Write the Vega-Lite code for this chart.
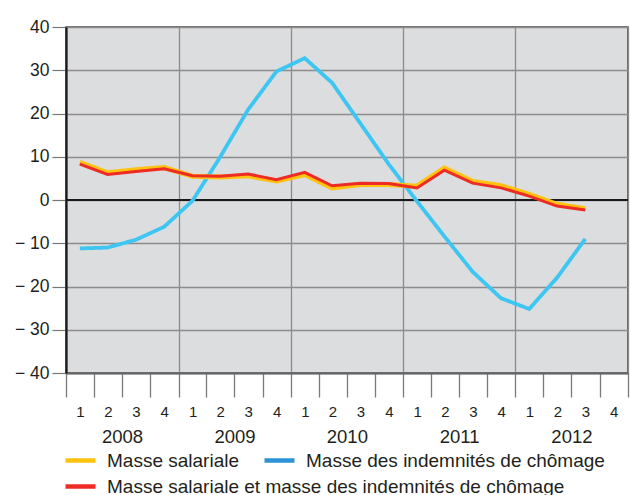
{
  "$schema": "https://vega.github.io/schema/vega-lite/v6.json",
  "width": 562,
  "height": 346,
  "autosize": {"type": "none"},
  "padding": {"left": 66, "top": 27, "right": 2, "bottom": 122},
  "background": "white",
  "config": {
    "font": "Liberation Sans",
    "view": {"fill": "#dcdddf", "stroke": "#444444", "strokeWidth": 1.5},
    "axis": {"labelFont": "Liberation Sans", "labelColor": "#231f20", "gridColor": "#8c8c8c", "gridWidth": 1.3, "gridOpacity": 1, "labelOverlap": false, "labelFlush": false, "title": null},
    "legend": {"labelFont": "Liberation Sans", "labelColor": "#231f20", "labelFontSize": 19, "labelLimit": 0, "padding": 0, "title": null, "symbolType": "stroke", "symbolSize": 900, "symbolStrokeWidth": 4.5, "labelOffset": 9}
  },
  "data": {
    "values": [
      {"date": "2008-02-15", "serie": "Masse salariale", "valeur": 8.7},
      {"date": "2008-05-15", "serie": "Masse salariale", "valeur": 6.3},
      {"date": "2008-08-15", "serie": "Masse salariale", "valeur": 7.0},
      {"date": "2008-11-15", "serie": "Masse salariale", "valeur": 7.5},
      {"date": "2009-02-15", "serie": "Masse salariale", "valeur": 5.5},
      {"date": "2009-05-15", "serie": "Masse salariale", "valeur": 5.3},
      {"date": "2009-08-15", "serie": "Masse salariale", "valeur": 5.6},
      {"date": "2009-11-15", "serie": "Masse salariale", "valeur": 4.4},
      {"date": "2010-02-15", "serie": "Masse salariale", "valeur": 5.9},
      {"date": "2010-05-15", "serie": "Masse salariale", "valeur": 2.8},
      {"date": "2010-08-15", "serie": "Masse salariale", "valeur": 3.6},
      {"date": "2010-11-15", "serie": "Masse salariale", "valeur": 3.6},
      {"date": "2011-02-15", "serie": "Masse salariale", "valeur": 3.2},
      {"date": "2011-05-15", "serie": "Masse salariale", "valeur": 7.4},
      {"date": "2011-08-15", "serie": "Masse salariale", "valeur": 4.3},
      {"date": "2011-11-15", "serie": "Masse salariale", "valeur": 3.3},
      {"date": "2012-02-15", "serie": "Masse salariale", "valeur": 1.3},
      {"date": "2012-05-15", "serie": "Masse salariale", "valeur": -1.0},
      {"date": "2012-08-15", "serie": "Masse salariale", "valeur": -2.0},
      {"date": "2008-02-15", "serie": "Masse des indemnités de chômage", "valeur": -11.2},
      {"date": "2008-05-15", "serie": "Masse des indemnités de chômage", "valeur": -11.0},
      {"date": "2008-08-15", "serie": "Masse des indemnités de chômage", "valeur": -9.2},
      {"date": "2008-11-15", "serie": "Masse des indemnités de chômage", "valeur": -6.2},
      {"date": "2009-02-15", "serie": "Masse des indemnités de chômage", "valeur": -0.2},
      {"date": "2009-05-15", "serie": "Masse des indemnités de chômage", "valeur": 9.8},
      {"date": "2009-08-15", "serie": "Masse des indemnités de chômage", "valeur": 20.9},
      {"date": "2009-11-15", "serie": "Masse des indemnités de chômage", "valeur": 29.7},
      {"date": "2010-02-15", "serie": "Masse des indemnités de chômage", "valeur": 32.8},
      {"date": "2010-05-15", "serie": "Masse des indemnités de chômage", "valeur": 27.1},
      {"date": "2010-08-15", "serie": "Masse des indemnités de chômage", "valeur": 17.7},
      {"date": "2010-11-15", "serie": "Masse des indemnités de chômage", "valeur": 8.3},
      {"date": "2011-02-15", "serie": "Masse des indemnités de chômage", "valeur": -0.3},
      {"date": "2011-05-15", "serie": "Masse des indemnités de chômage", "valeur": -8.4},
      {"date": "2011-08-15", "serie": "Masse des indemnités de chômage", "valeur": -16.6},
      {"date": "2011-11-15", "serie": "Masse des indemnités de chômage", "valeur": -22.7},
      {"date": "2012-02-15", "serie": "Masse des indemnités de chômage", "valeur": -25.2},
      {"date": "2012-05-15", "serie": "Masse des indemnités de chômage", "valeur": -18.0},
      {"date": "2012-08-15", "serie": "Masse des indemnités de chômage", "valeur": -9.0},
      {"date": "2008-02-15", "serie": "Masse salariale et masse des indemnités de chômage", "valeur": 8.3},
      {"date": "2008-05-15", "serie": "Masse salariale et masse des indemnités de chômage", "valeur": 5.9},
      {"date": "2008-08-15", "serie": "Masse salariale et masse des indemnités de chômage", "valeur": 6.6},
      {"date": "2008-11-15", "serie": "Masse salariale et masse des indemnités de chômage", "valeur": 7.2},
      {"date": "2009-02-15", "serie": "Masse salariale et masse des indemnités de chômage", "valeur": 5.6},
      {"date": "2009-05-15", "serie": "Masse salariale et masse des indemnités de chômage", "valeur": 5.5},
      {"date": "2009-08-15", "serie": "Masse salariale et masse des indemnités de chômage", "valeur": 6.0},
      {"date": "2009-11-15", "serie": "Masse salariale et masse des indemnités de chômage", "valeur": 4.7},
      {"date": "2010-02-15", "serie": "Masse salariale et masse des indemnités de chômage", "valeur": 6.4},
      {"date": "2010-05-15", "serie": "Masse salariale et masse des indemnités de chômage", "valeur": 3.3},
      {"date": "2010-08-15", "serie": "Masse salariale et masse des indemnités de chômage", "valeur": 3.9},
      {"date": "2010-11-15", "serie": "Masse salariale et masse des indemnités de chômage", "valeur": 3.8},
      {"date": "2011-02-15", "serie": "Masse salariale et masse des indemnités de chômage", "valeur": 2.8},
      {"date": "2011-05-15", "serie": "Masse salariale et masse des indemnités de chômage", "valeur": 6.9},
      {"date": "2011-08-15", "serie": "Masse salariale et masse des indemnités de chômage", "valeur": 3.9},
      {"date": "2011-11-15", "serie": "Masse salariale et masse des indemnités de chômage", "valeur": 2.8},
      {"date": "2012-02-15", "serie": "Masse salariale et masse des indemnités de chômage", "valeur": 0.9},
      {"date": "2012-05-15", "serie": "Masse salariale et masse des indemnités de chômage", "valeur": -1.4},
      {"date": "2012-08-15", "serie": "Masse salariale et masse des indemnités de chômage", "valeur": -2.3}
    ]
  },
  "layer": [
    {
      "mark": {"type": "rule", "color": "#1a1a1a", "strokeWidth": 1.6},
      "encoding": {
        "y": {
          "datum": 0, "type": "quantitative",
          "scale": {"domain": [-40, 40], "nice": false},
          "axis": {
            "values": [-40, -30, -20, -10, 0, 10, 20, 30, 40],
            "labelExpr": "datum.value < 0 ? '\u2212 ' + abs(datum.value) : '' + datum.value",
            "grid": true, "tickSize": 14, "tickColor": "#777777", "tickWidth": 1.2,
            "domainColor": "#1a1a1a", "domainWidth": 2.2,
            "labelFontSize": 17.5, "labelPadding": 3
          }
        }
      }
    },
    {
      "transform": [{"filter": "datum.serie === 'Masse des indemnités de chômage'"}],
      "mark": {"type": "line", "strokeWidth": 3.8, "color": "#3ec6f2"},
      "encoding": {
        "x": {
          "field": "date", "type": "temporal",
          "scale": {"type": "utc", "domain": [{"year": 2008, "month": 1, "date": 1, "utc": true}, {"year": 2013, "month": 1, "date": 1, "utc": true}]},
          "axis": {
            "orient": "bottom",
            "values": [
              {"year": 2008, "month": 1, "date": 1, "utc": true},
              {"year": 2009, "month": 1, "date": 1, "utc": true},
              {"year": 2010, "month": 1, "date": 1, "utc": true},
              {"year": 2011, "month": 1, "date": 1, "utc": true},
              {"year": 2012, "month": 1, "date": 1, "utc": true},
              {"year": 2013, "month": 1, "date": 1, "utc": true}
            ],
            "labelExpr": "utcyear(datum.value) > 2012 ? '' : '' + utcyear(datum.value)",
            "grid": true, "ticks": false, "domain": false,
            "labelOffset": 56, "labelPadding": 63, "labelBaseline": "middle", "labelAlign": "center",
            "labelFontSize": 18.5
          }
        },
        "y": {"field": "valeur", "type": "quantitative", "scale": {"domain": [-40, 40], "nice": false}, "axis": null},
        "strokeDash": {
          "field": "serie", "type": "nominal",
          "scale": {"domain": ["Masse des indemnités de chômage"], "range": [[1, 0]]},
          "legend": {"orient": "none", "legendX": 196, "legendY": 416, "symbolStrokeColor": "#2e93d6", "symbolDash": [1, 0]}
        }
      }
    },
    {
      "transform": [{"filter": "datum.serie === 'Masse salariale'"}],
      "mark": {"type": "line", "strokeWidth": 5},
      "encoding": {
        "x": {
          "field": "date", "type": "temporal",
          "axis": {
            "orient": "bottom",
            "values": [
              {"year": 2008, "month": 1, "date": 1, "utc": true},
              {"year": 2008, "month": 4, "date": 1, "utc": true},
              {"year": 2008, "month": 7, "date": 1, "utc": true},
              {"year": 2008, "month": 10, "date": 1, "utc": true},
              {"year": 2009, "month": 1, "date": 1, "utc": true},
              {"year": 2009, "month": 4, "date": 1, "utc": true},
              {"year": 2009, "month": 7, "date": 1, "utc": true},
              {"year": 2009, "month": 10, "date": 1, "utc": true},
              {"year": 2010, "month": 1, "date": 1, "utc": true},
              {"year": 2010, "month": 4, "date": 1, "utc": true},
              {"year": 2010, "month": 7, "date": 1, "utc": true},
              {"year": 2010, "month": 10, "date": 1, "utc": true},
              {"year": 2011, "month": 1, "date": 1, "utc": true},
              {"year": 2011, "month": 4, "date": 1, "utc": true},
              {"year": 2011, "month": 7, "date": 1, "utc": true},
              {"year": 2011, "month": 10, "date": 1, "utc": true},
              {"year": 2012, "month": 1, "date": 1, "utc": true},
              {"year": 2012, "month": 4, "date": 1, "utc": true},
              {"year": 2012, "month": 7, "date": 1, "utc": true},
              {"year": 2012, "month": 10, "date": 1, "utc": true},
              {"year": 2013, "month": 1, "date": 1, "utc": true}
            ],
            "labelExpr": "utcyear(datum.value) > 2012 ? '' : '' + utcquarter(datum.value)",
            "grid": false, "ticks": true, "tickSize": 24, "tickColor": "#7a7a7a", "tickWidth": 1.3,
            "domain": true, "domainColor": "#666666", "domainWidth": 2.2,
            "labelOffset": 14, "labelPadding": 14, "labelBaseline": "middle", "labelAlign": "center",
            "labelFontSize": 15
          }
        },
        "y": {"field": "valeur", "type": "quantitative", "scale": {"domain": [-40, 40], "nice": false}, "axis": null},
        "color": {
          "field": "serie", "type": "nominal",
          "scale": {"domain": ["Masse salariale"], "range": ["#ffc20e"]},
          "legend": {"orient": "none", "legendX": -3, "legendY": 416}
        }
      }
    },
    {
      "transform": [{"filter": "datum.serie === 'Masse salariale et masse des indemnités de chômage'"}],
      "mark": {"type": "line", "strokeWidth": 3},
      "encoding": {
        "x": {"field": "date", "type": "temporal", "axis": null},
        "y": {"field": "valeur", "type": "quantitative", "scale": {"domain": [-40, 40], "nice": false}, "axis": null},
        "stroke": {
          "field": "serie", "type": "nominal",
          "scale": {"domain": ["Masse salariale et masse des indemnités de chômage"], "range": ["#ee2b24"]},
          "legend": {"orient": "none", "legendX": -3, "legendY": 442}
        }
      }
    }
  ],
  "resolve": {"axis": {"x": "independent", "y": "independent"}}
}
